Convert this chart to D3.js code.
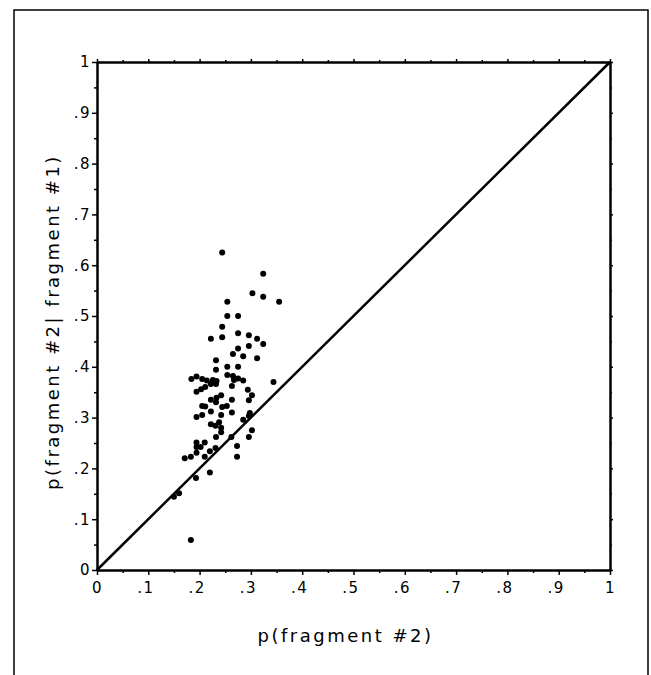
<!DOCTYPE html>
<html>
<head>
<meta charset="utf-8">
<script src="https://cdn.jsdelivr.net/npm/d3@7"></script>
<style>
  body { margin: 0; background: #fff; }
  svg text { font-family: "DejaVu Sans", Verdana, sans-serif; fill: #000; }
</style>
</head>
<body>
<div id="chart"></div>
<script>
// ------------------------------------------------------
// DATA
// ------------------------------------------------------

var pFrag2 = [
  0.244, 0.324, 0.303, 0.324, 0.355, 0.254, 0.254, 0.275, 0.244, 0.222,
  0.244, 0.275, 0.296, 0.312, 0.324, 0.296, 0.275, 0.265, 0.285, 0.312,
  0.232, 0.232, 0.254, 0.275, 0.254, 0.265, 0.275, 0.285, 0.267, 0.184,
  0.194, 0.205, 0.214, 0.226, 0.233, 0.222, 0.211, 0.203, 0.194, 0.263,
  0.232, 0.344, 0.294, 0.302, 0.242, 0.233, 0.222, 0.263, 0.296, 0.232,
  0.253, 0.205, 0.211, 0.244, 0.263, 0.222, 0.205, 0.194, 0.242, 0.298,
  0.296, 0.285, 0.222, 0.231, 0.238, 0.242, 0.242, 0.302, 0.296, 0.232,
  0.194, 0.210, 0.262, 0.194, 0.202, 0.194, 0.171, 0.183, 0.210, 0.220,
  0.231, 0.273, 0.273, 0.220, 0.193, 0.160, 0.150, 0.183
];

var pFrag2Given1 = [
  0.625, 0.583, 0.545, 0.538, 0.528, 0.528, 0.500, 0.500, 0.479, 0.455,
  0.458, 0.466, 0.462, 0.455, 0.445, 0.441, 0.436, 0.425, 0.421, 0.417,
  0.413, 0.394, 0.400, 0.400, 0.384, 0.382, 0.377, 0.373, 0.374, 0.376,
  0.381, 0.376, 0.373, 0.374, 0.372, 0.366, 0.360, 0.356, 0.351, 0.362,
  0.366, 0.370, 0.355, 0.344, 0.344, 0.339, 0.335, 0.335, 0.334, 0.330,
  0.323, 0.323, 0.322, 0.321, 0.310, 0.312, 0.305, 0.301, 0.305, 0.309,
  0.303, 0.296, 0.287, 0.284, 0.291, 0.280, 0.271, 0.275, 0.262, 0.262,
  0.251, 0.251, 0.262, 0.242, 0.242, 0.231, 0.220, 0.223, 0.223, 0.234,
  0.240, 0.244, 0.223, 0.192, 0.181, 0.151, 0.144, 0.059
];

var majorTicks = [0, 0.1, 0.2, 0.3, 0.4, 0.5, 0.6, 0.7, 0.8, 0.9, 1];
var minorTicks = [0.05, 0.15, 0.25, 0.35, 0.45, 0.55, 0.65, 0.75, 0.85, 0.95];
var tickLabels = ["0", ".1", ".2", ".3", ".4", ".5", ".6", ".7", ".8", ".9", "1"];

var xTitle = "p(fragment #2)";
var yTitle = "p(fragment #2| fragment #1)";

// ------------------------------------------------------
// DRAW CHART
// ------------------------------------------------------

var width = 651;
var height = 675;
var plotLeft = 97, plotRight = 610, plotTop = 62, plotBottom = 570;

var svg = d3.select("#chart").append("svg")
  .attr("width", width)
  .attr("height", height);

var x = d3.scaleLinear().domain([0, 1]).range([plotLeft, plotRight]);
var y = d3.scaleLinear().domain([0, 1]).range([plotBottom, plotTop]);

function labelFor(d) {
  return tickLabels[majorTicks.indexOf(d)];
}

// outer frame (runs off the bottom of the page)
svg.append("rect")
  .attr("x", 14).attr("y", 10)
  .attr("width", 634).attr("height", 700)
  .attr("fill", "none")
  .attr("stroke", "#000")
  .attr("stroke-width", 1.5);

// axes, all four sides carry ticks
function styleAxis(g) {
  g.select(".domain").attr("stroke-width", 2).attr("stroke", "#000");
  g.selectAll(".tick line").attr("stroke-width", 1.5).attr("stroke", "#000");
}

svg.append("g")
  .attr("transform", "translate(0," + plotBottom + ")")
  .call(d3.axisBottom(x).tickValues(majorTicks).tickSize(5).tickSizeOuter(0)
    .tickFormat(labelFor))
  .call(styleAxis)
  .call(function (g) {
    g.selectAll(".tick text")
      .attr("y", 12)
      .attr("dx", function (d) { return (d === 0 || d === 1) ? 0 : -3; })
      .style("font-size", "15px")
      .style("letter-spacing", "1.5px");
  });

svg.append("g")
  .attr("transform", "translate(" + plotLeft + ",0)")
  .call(d3.axisLeft(y).tickValues(majorTicks).tickSize(5).tickSizeOuter(0)
    .tickFormat(labelFor))
  .call(styleAxis)
  .call(function (g) {
    g.selectAll(".tick text")
      .attr("x", -6)
      .style("font-size", "15px")
      .style("letter-spacing", "1.5px");
  });

svg.append("g")
  .attr("transform", "translate(0," + plotTop + ")")
  .call(d3.axisTop(x).tickValues(majorTicks).tickSize(3).tickSizeOuter(0)
    .tickFormat(""))
  .call(styleAxis);

svg.append("g")
  .attr("transform", "translate(" + plotRight + ",0)")
  .call(d3.axisRight(y).tickValues(majorTicks).tickSize(3).tickSizeOuter(0)
    .tickFormat(""))
  .call(styleAxis);

// minor ticks at the half steps
svg.append("g")
  .attr("transform", "translate(0," + plotBottom + ")")
  .call(d3.axisBottom(x).tickValues(minorTicks).tickSize(3).tickSizeOuter(0).tickFormat(""))
  .call(styleAxis);
svg.append("g")
  .attr("transform", "translate(" + plotLeft + ",0)")
  .call(d3.axisLeft(y).tickValues(minorTicks).tickSize(3).tickSizeOuter(0).tickFormat(""))
  .call(styleAxis);
svg.append("g")
  .attr("transform", "translate(0," + plotTop + ")")
  .call(d3.axisTop(x).tickValues(minorTicks).tickSize(2).tickSizeOuter(0).tickFormat(""))
  .call(styleAxis);
svg.append("g")
  .attr("transform", "translate(" + plotRight + ",0)")
  .call(d3.axisRight(y).tickValues(minorTicks).tickSize(2).tickSizeOuter(0).tickFormat(""))
  .call(styleAxis);

// diagonal y = x
svg.append("line")
  .attr("x1", x(0)).attr("y1", y(0))
  .attr("x2", x(1)).attr("y2", y(1))
  .attr("stroke", "#000")
  .attr("stroke-width", 2.5);

// points
svg.append("g").selectAll("circle")
  .data(pFrag2)
  .join("circle")
  .attr("cx", function (d) { return x(d); })
  .attr("cy", function (d, i) { return y(pFrag2Given1[i]); })
  .attr("r", 3)
  .attr("fill", "#000");

// titles
svg.append("text")
  .attr("x", (plotLeft + plotRight) / 2 - 8)
  .attr("y", 642)
  .attr("text-anchor", "middle")
  .style("font-size", "18px")
  .style("letter-spacing", "2.5px")
  .text(xTitle);

svg.append("text")
  .attr("transform", "translate(59," + ((plotTop + plotBottom) / 2 + 6) + ") rotate(-90)")
  .attr("text-anchor", "middle")
  .style("font-size", "18px")
  .style("letter-spacing", "2.5px")
  .text(yTitle);
</script>
</body>
</html>
